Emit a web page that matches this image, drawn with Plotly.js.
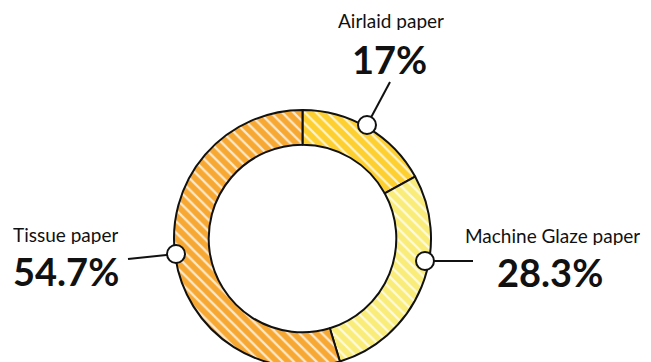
<!DOCTYPE html>
<html><head><meta charset="utf-8">
<script src="https://cdn.plot.ly/plotly-3.0.1.min.js"></script>
<style>html,body{margin:0;padding:0;overflow:hidden;width:651px;height:362px;background:#fff}</style>
</head><body><div id="chart"></div>
<script>
const categories = ["Airlaid paper", "Machine Glaze paper", "Tissue paper"];
const shares = [17, 28.3, 54.7];
const valueLabels = ["17%", "28.3%", "54.7%"];
const colors = ["#FDCF2F", "#F9EC79", "#F6A833"];

const W = 651, H = 380;
const px = x => x / W, py = y => 1 - y / H;

const trace = {
  type: "pie",
  labels: categories,
  values: shares,
  sort: false,
  direction: "clockwise",
  rotation: 0,
  hole: 0.73,
  textinfo: "none",
  hoverinfo: "none",
  domain: {x: [px(174), px(431)], y: [py(367), py(110)]},
  marker: {
    colors: colors,
    line: {color: "#111", width: 2},
    pattern: {shape: "\\", fgcolor: "#ffffff", bgcolor: colors, fgopacity: 0.75, size: 8, solidity: 0.28, fillmode: "overlay"}
  },
  showlegend: false
};

// callout geometry (pixel positions of circles, line ends and labels)
const callouts = [
  {c: [367, 125], l: [390, 82], name: [391, 20], val: [389, 59], anchor: "center"},
  {c: [425, 261], l: [473, 261], name: [552, 235], val: [550, 272], anchor: "center"},
  {c: [176, 254], l: [128, 259], name: [11, 234], val: [11, 271], anchor: "left"}
];

const shapes = [], annotations = [];
callouts.forEach((o, i) => {
  shapes.push({type: "line", xref: "paper", yref: "paper",
    x0: px(o.c[0]), y0: py(o.c[1]), x1: px(o.l[0]), y1: py(o.l[1]),
    line: {color: "#111", width: 2}});
  const r = 9;
  shapes.push({type: "circle", xref: "paper", yref: "paper",
    x0: px(o.c[0] - r), x1: px(o.c[0] + r), y0: py(o.c[1] + r), y1: py(o.c[1] - r),
    fillcolor: "#fff", line: {color: "#111", width: 2}});
  annotations.push({xref: "paper", yref: "paper", x: px(o.name[0]), y: py(o.name[1]),
    xanchor: o.anchor, yanchor: "middle", showarrow: false, text: categories[i],
    height: 20, valign: "middle",
    font: {family: "Lato, sans-serif", size: 19, color: "#111"}});
  annotations.push({xref: "paper", yref: "paper", x: px(o.val[0]), y: py(o.val[1]),
    xanchor: o.anchor, yanchor: "middle", showarrow: false, text: "<b>" + valueLabels[i] + "</b>",
    height: 32, valign: "middle",
    font: {family: "Lato, sans-serif", size: 38, color: "#111", weight: 900}});
});

Plotly.newPlot("chart", [trace], {
  width: W, height: H,
  margin: {l: 0, r: 0, t: 0, b: 0},
  paper_bgcolor: "#fff",
  shapes: shapes,
  annotations: annotations
}, {staticPlot: true});
</script></body></html>
